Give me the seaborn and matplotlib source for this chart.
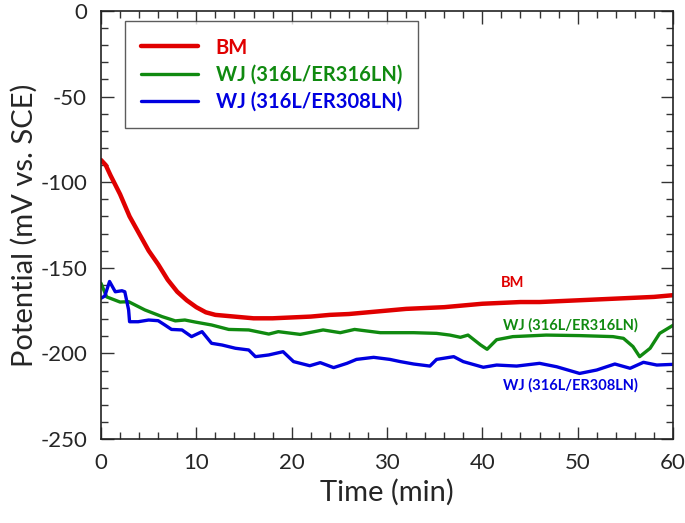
import numpy as np
import pandas as pd
import matplotlib
matplotlib.use("Agg")
import matplotlib.pyplot as plt
from matplotlib.ticker import MultipleLocator
import seaborn as sns

# ----------------------------
# Data (time in min, potential in mV vs SCE)
# ----------------------------
bm_t = [0, 0.5, 1, 2, 3, 4, 5, 6, 7, 8, 9, 10, 11, 12, 14, 16, 18, 20, 22, 24,
        26, 28, 30, 32, 34, 36, 38, 40, 42, 44, 46, 48, 50, 52, 54, 56, 58, 60]
bm_v = [-87, -90, -96, -107, -120, -130, -140, -148, -157, -164, -169, -173, -176,
        -177.5, -178.5, -179.5, -179.5, -179, -178.5, -177.5, -177, -176, -175,
        -174, -173.5, -173, -172, -171, -170.5, -170, -170, -169.5, -169, -168.5,
        -168, -167.5, -167, -166]

wj316_t = [0, 0.6, 2, 2.9, 4.6, 6.4, 7.8, 8.8, 9.9, 11.6, 13.4, 15.5, 17.6, 18.6,
           20.9, 23.3, 25.1, 26.6, 29.3, 32.8, 35.2, 36.6, 37.7, 38.5, 39.8, 40.5,
           41.5, 43.2, 46.7, 50.2, 53.7, 54.8, 55.8, 56.5, 57.6, 58.6, 60]
wj316_v = [-159, -167, -170, -169.8, -174.6, -178.5, -181, -180.5, -181.7, -183.4,
           -186, -186.3, -188.7, -187.3, -188.9, -186.3, -187.9, -186, -187.9,
           -187.9, -188.3, -189.3, -190.6, -189.3, -195, -197.6, -192, -190.2,
           -189.3, -189.6, -190.2, -191.2, -196, -201.9, -197, -188.3, -183.6]

wj308_t = [0, 0.4, 0.9, 1.5, 2.2, 2.5, 2.9, 3.0, 3.9, 5.0, 6.0, 6.7, 7.4, 8.5, 9.5,
           10.6, 11.6, 12.7, 14.1, 15.5, 16.2, 17.6, 19.1, 20.2, 21.9, 23.0, 24.4,
           25.8, 26.8, 28.6, 30.3, 31.4, 32.8, 34.5, 35.2, 37.0, 38.0, 40.1, 41.5,
           43.6, 46.0, 47.8, 50.2, 52.0, 53.9, 55.5, 56.9, 58.3, 60]
wj308_v = [-167.8, -166.5, -158, -164, -163.4, -164, -174.6, -181.5, -181.5, -180.5,
           -180.9, -183.4, -186, -186.3, -190.2, -187.3, -194.1, -195.1, -197, -198,
           -201.9, -200.9, -199, -204.8, -207.2, -205.4, -208.3, -205.8, -203.5,
           -202.3, -203.5, -204.8, -206.2, -207.4, -203.5, -201.9, -204.8, -208.1,
           -206.8, -207.4, -205.8, -207.8, -211.7, -209.7, -206.2, -208.7, -205.2,
           -206.8, -206.4]

labels = ["BM", "WJ (316L/ER316LN)", "WJ (316L/ER308LN)"]
colors = ["#e00000", "#108a10", "#0000e0"]

df = pd.concat([
    pd.DataFrame({"time": bm_t, "potential": bm_v, "sample": labels[0]}),
    pd.DataFrame({"time": wj316_t, "potential": wj316_v, "sample": labels[1]}),
    pd.DataFrame({"time": wj308_t, "potential": wj308_v, "sample": labels[2]}),
])

# ----------------------------
# Plot
# ----------------------------
sns.set_style("ticks")
plt.rcParams["font.family"] = ["Lato", "DejaVu Sans"]
plt.rcParams["axes.unicode_minus"] = False

fig = plt.figure(figsize=(6.85, 5.23), dpi=100)
ax = fig.add_axes([0.1474, 0.1606, 0.8351, 0.8184])

widths = [3.2, 2.4, 2.4]
for lab, col, lw in zip(labels, colors, widths):
    sns.lineplot(data=df[df["sample"] == lab], x="time", y="potential",
                 color=col, linewidth=lw, label=lab, ax=ax, sort=False)

ax.set_xlim(0, 60)
ax.set_ylim(-250, 0)
ax.xaxis.set_major_locator(MultipleLocator(10))
ax.xaxis.set_minor_locator(MultipleLocator(2))
ax.yaxis.set_major_locator(MultipleLocator(50))
ax.yaxis.set_minor_locator(MultipleLocator(10))
ax.tick_params(which="both", direction="in", top=True, right=True,
               labelsize=16, width=1, color="#333333")
ax.tick_params(which="major", length=9, pad=10)
ax.tick_params(which="minor", length=5)
for sp in ax.spines.values():
    sp.set_linewidth(1.2)
    sp.set_color("#222222")

ax.set_xlabel("Time (min)", fontsize=21, labelpad=4)
ax.set_ylabel("Potential (mV vs. SCE)", fontsize=21, labelpad=2)

# in-plot annotations
ax.text(43.2, -158.9, "BM", color=colors[0], fontsize=10.5, fontweight="bold",
        ha="center", va="center")
ax.text(49.2, -183.4, "WJ (316L/ER316LN)", color=colors[1], fontsize=10.5,
        fontweight="bold", ha="center", va="center")
ax.text(49.2, -218.5, "WJ (316L/ER308LN)", color=colors[2], fontsize=10.5,
        fontweight="bold", ha="center", va="center")

leg = ax.legend(loc="upper left", bbox_to_anchor=(0.035, 0.985), fontsize=14.5,
                frameon=True, fancybox=False, edgecolor="#333333",
                handlelength=2.8, borderpad=0.8, labelspacing=0.35,
                borderaxespad=0.2, handletextpad=0.9)
leg.get_frame().set_linewidth(1.0)
for txt, col in zip(leg.get_texts(), colors):
    txt.set_color(col)
    txt.set_fontweight("bold")

fig.savefig("out.png", dpi=100)
